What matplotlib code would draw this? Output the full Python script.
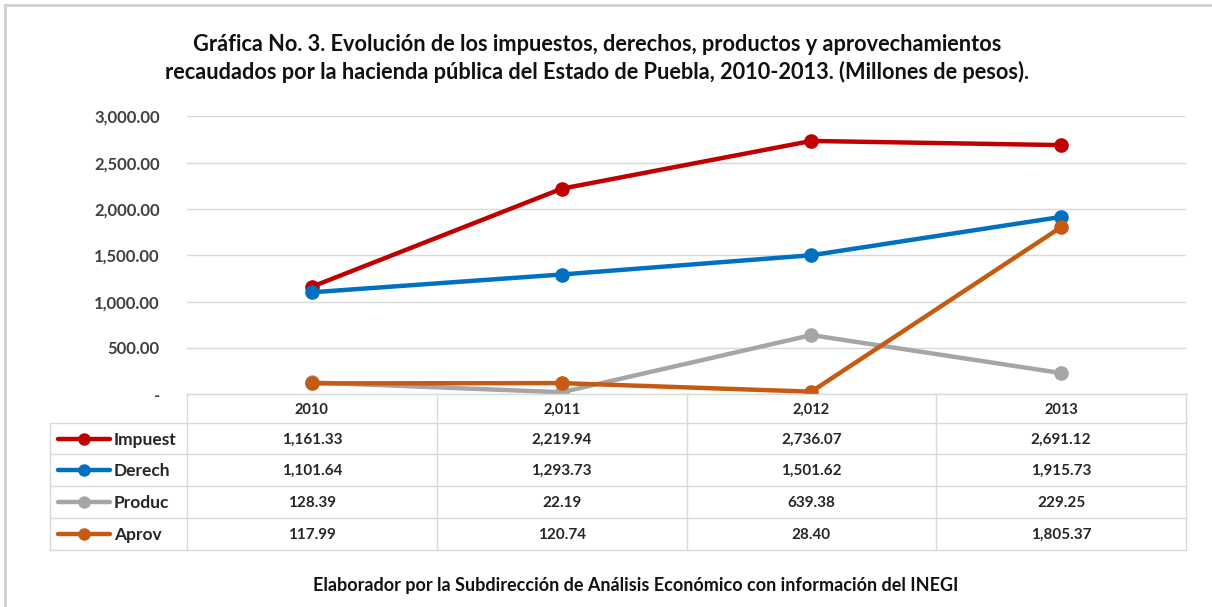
import matplotlib
matplotlib.use('Agg')
import matplotlib.pyplot as plt
from matplotlib.lines import Line2D

# Data
years = ['2010', '2,011', '2,012', '2013']
series = ['Impuest', 'Derech', 'Produc', 'Aprov']
impuest = [1161.33, 2219.94, 2736.07, 2691.12]
derech = [1101.64, 1293.73, 1501.62, 1915.73]
produc = [128.39, 22.19, 639.38, 229.25]
aprov = [117.99, 120.74, 28.40, 1805.37]
colors = ['#C00000', '#0070C0', '#A5A5A5', '#C65A11']

title = ('Gráfica No. 3. Evolución de los impuestos, derechos, productos y aprovechamientos\n'
         'recaudados por la hacienda pública del Estado de Puebla, 2010-2013. (Millones de pesos).')
footer = 'Elaborador por la Subdirección de Análisis Económico con información del INEGI'

plt.rcParams['font.family'] = ['Lato', 'DejaVu Sans']

W, H = 1212, 607
fig = plt.figure(figsize=(W / 100, H / 100), dpi=100)

# pixel layout of plot area
left, right, top, bottom = 187, 1186, 116.5, 394.3
ax = fig.add_axes([left / W, 1 - bottom / H, (right - left) / W, (bottom - top) / H])

values = [impuest, derech, produc, aprov]
x = range(len(years))
for vals, c in zip(values, colors):
    ax.plot(x, vals, color=c, lw=3.2, marker='o', ms=9.5, solid_capstyle='round', zorder=3)

ax.set_xlim(-0.5, len(years) - 0.5)
ax.set_ylim(0, 3000)
ax.set_yticks(range(0, 3001, 500))
ax.set_yticklabels(['-'] + [f'{v:,.2f}' for v in range(500, 3001, 500)],
                   fontsize=12, fontweight='bold', color='#404040')
ax.tick_params(axis='y', length=0, pad=19.5)
ax.set_xticks([])
ax.grid(axis='y', color='#D9D9D9', lw=1)
for s in ax.spines.values():
    s.set_visible(False)
ax.set_axisbelow(True)

# overlay in pixel coordinates for table, border and texts
ov = fig.add_axes([0, 0, 1, 1], facecolor='none')
ov.set_xlim(0, W)
ov.set_ylim(H, 0)
ov.axis('off')

gc = '#D9D9D9'
col_w = (right - left) / len(years)
row_edges = [423, 454, 486, 518, 550]
# header row
ov.plot([left, right], [bottom, bottom], color=gc, lw=1)
for i, yr in enumerate(years):
    ov.text(left + col_w * (i + 0.5), (bottom + row_edges[0]) / 2 + 1, yr,
            ha='center', va='center', fontsize=10.5, fontweight='bold', color='#262626')
# horizontal lines
for yy in row_edges:
    ov.plot([50, right], [yy, yy], color=gc, lw=1)
# vertical lines
ov.plot([50, 50], [row_edges[0], row_edges[-1]], color=gc, lw=1)
for i in range(len(years) + 1):
    ov.plot([left + col_w * i] * 2, [bottom, row_edges[-1]], color=gc, lw=1)

for r, (name, vals, c) in enumerate(zip(series, values, colors)):
    yc = (row_edges[r] + row_edges[r + 1]) / 2
    ov.add_line(Line2D([58, 110], [yc, yc], color=c, lw=3.2, solid_capstyle='round'))
    ov.add_line(Line2D([84], [yc], color=c, marker='o', ms=8))
    ov.text(114, yc + 1, name, ha='left', va='center', fontsize=12.5, fontweight='bold', color='#262626')
    for i, v in enumerate(vals):
        ov.text(left + col_w * (i + 0.5), yc + 1, f'{v:,.2f}', ha='center', va='center',
                fontsize=11, fontweight='bold', color='#262626')

# outer border (left and top)
ov.plot([5, 5], [5, H], color='#D0D0D0', lw=2)
ov.plot([5, W], [5, 5], color='#D0D0D0', lw=2)

ov.text(597, 58.5, title, ha='center', va='center', fontsize=15.7, fontweight='bold',
        color='#111111', linespacing=1.35)
ov.text(636, 585, footer, ha='center', va='center', fontsize=13, fontweight='bold', color='#111111')

fig.savefig('out.png', dpi=100)
